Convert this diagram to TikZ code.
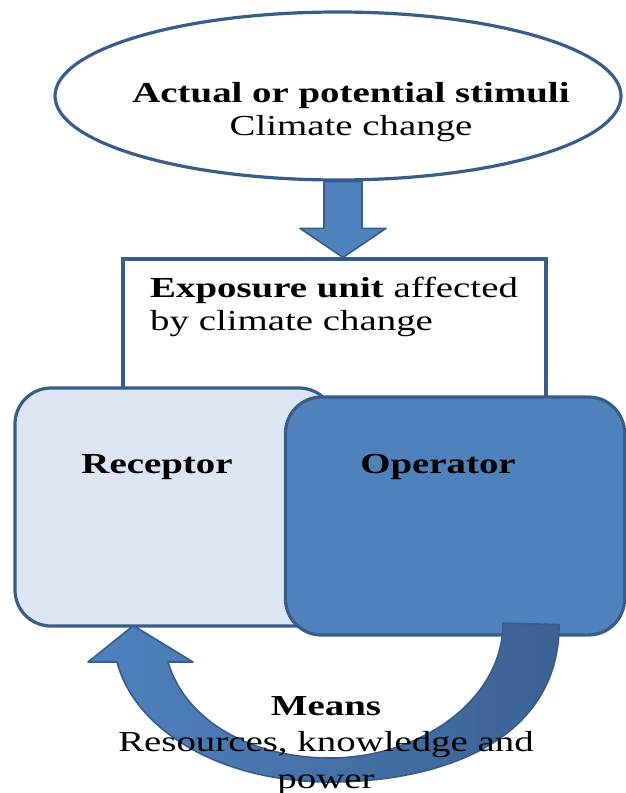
\documentclass[tikz,border=0pt]{standalone}
\usepackage{fontspec}
\setmainfont[FakeStretch=1.34]{Liberation Serif}
\usetikzlibrary{shapes.geometric,calc}
\definecolor{figline}{RGB}{56,93,138}
\definecolor{figblue}{RGB}{79,129,189}
\definecolor{figpale}{RGB}{220,230,242}
\definecolor{figdark}{RGB}{60,98,148}
\newcommand{\txtsize}{\fontsize{29}{32.5}\selectfont}
\tikzset{
  fgline/.style  ={draw=figline,line width=3.2pt},
  stimbox/.style ={fgline,ellipse,fill=white,minimum width=566pt,minimum height=168pt,inner sep=0pt},
  expobox/.style ={fgline,rectangle,fill=white,minimum width=423pt,minimum height=141pt,inner sep=0pt},
  unitbox/.style ={fgline,rectangle,rounded corners=36pt,minimum height=238pt,inner sep=0pt},
  fatarr/.style  ={draw=figline,line width=1.6pt,fill=figblue,line join=round},
  ftxt/.style    ={inner sep=0pt,font=\txtsize,align=center},
  btxt/.style    ={inner sep=0pt,font=\txtsize\bfseries},
}

\begin{document}
\begin{tikzpicture}[x=1pt,y=-1pt]
  \useasboundingbox (0,0) rectangle (626,793);
  \node[stimbox] (stim) at (338,96) {};
  \node[expobox] (expo) at (334.5,329.5) {};
  \node[unitbox,fill=figpale,minimum width=320pt] (recep) at (175,507) {};
  \node[unitbox,fill=figblue,minimum width=339pt] (oper) at (455,516) {};
  % block arrow from the stimuli down onto the exposure unit
  \coordinate (dtop) at ($(stim.south)+(5,0)$);
  \coordinate (dtip) at (dtop |- expo.north);
  \draw[fatarr] ($(dtop)+(-19,0)$) -- ($(dtip)+(-19,-29)$) -- ($(dtip)+(-43,-29)$)
    -- (dtip) -- ($(dtip)+(43,-29)$) -- ($(dtip)+(19,-29)$) -- ($(dtop)+(19,0)$) -- cycle;
  % curved arrow, operator back to receptor
  \coordinate (mfoot) at ($(oper.south east)+(-67,-12)$);
  \coordinate (mtip) at ($(recep.south west)+(120,-2)$);
  \shadedraw[fatarr,left color=figblue,middle color=figblue,right color=figdark]
    (mfoot) .. controls +(0,117) and +(110,0) .. (330,782)
    .. controls +(-110,0) and +(18,68) .. (117,662) -- (88,662) -- (mtip)
    -- (193,662) -- (168,662) .. controls +(17,58) and +(-80,0) .. (330,758)
    .. controls +(90,0) and +(0,77) .. (503,623) -- cycle;
  \node[ftxt,anchor=base] (stimtxt) at (351,135) {\textbf{Actual or potential stimuli}\\Climate change};
  \node[ftxt,anchor=base west,align=left] (expotxt) at (150,330) {\textbf{Exposure unit} affected\\by climate change};
  \node[btxt,anchor=base] (receptxt) at (157,473) {Receptor};
  \node[btxt,anchor=base] (opertxt) at (438,473) {Operator};
  \node[ftxt,anchor=base] (meanstxt) at (326,788) {\textbf{Means}\\[4pt]Resources, knowledge and\\[4pt]power};
\end{tikzpicture}
\end{document}
